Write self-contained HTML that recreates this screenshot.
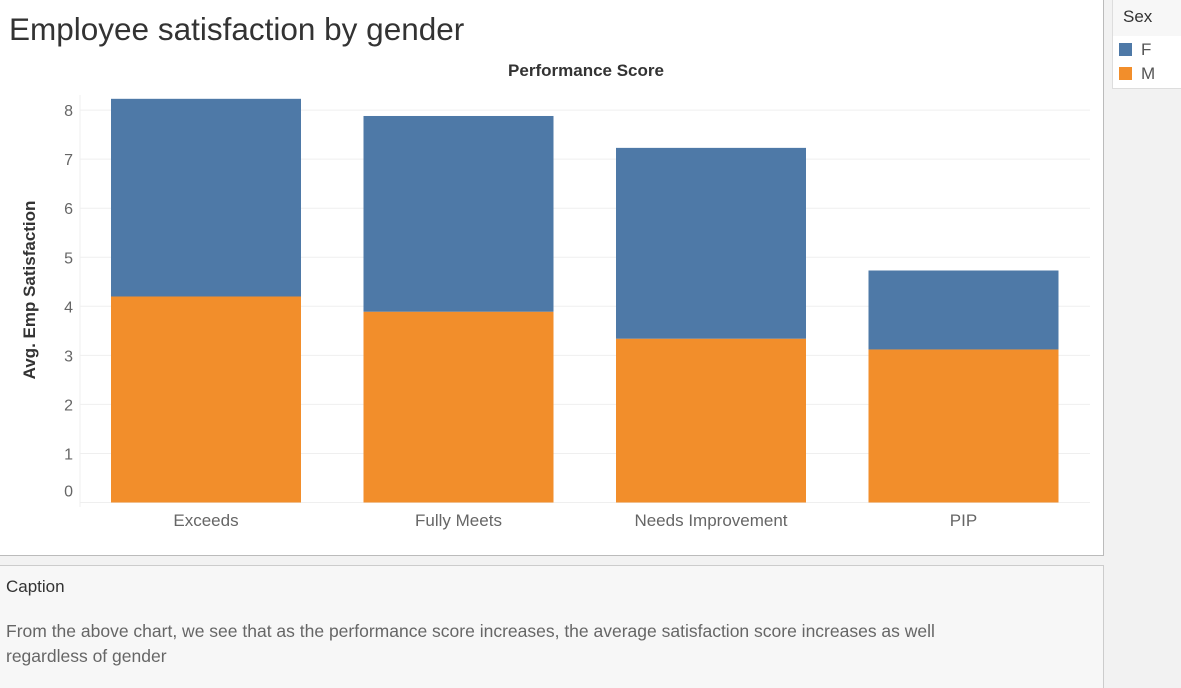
<!DOCTYPE html>
<html><head><meta charset="utf-8"><style>
body{margin:0;width:1181px;height:687px;background:#f2f2f2;font-family:"Liberation Sans",sans-serif;position:relative;overflow:hidden}
#main{position:absolute;left:0;top:0;width:1103px;height:555px;background:#fff;border-right:1px solid #bbb;border-bottom:1px solid #bbb}
#title{position:absolute;left:9px;top:11px;font-size:31.5px;color:#333;font-weight:300}
#legend{position:absolute;left:1112px;top:0;width:69px;height:88px;background:#fff;border-left:1px solid #ddd;border-bottom:1px solid #ddd}
#lh{height:36px;background:#f7f7f7;font-size:17px;color:#333;padding-left:10px;line-height:34px}
.li{position:absolute;left:6px;font-size:17px;color:#555}
.sw{display:inline-block;width:13px;height:13px;margin-right:9px;vertical-align:-1px}
#caption{position:absolute;left:0;top:565px;width:1103px;height:122px;background:#f7f7f7;border-top:1px solid #ccc;border-right:1px solid #ccc}
#ct{position:absolute;left:6px;top:11px;font-size:17px;color:#333}
#cb{position:absolute;left:6px;top:53px;font-size:17.5px;color:#666;line-height:25px;width:1012px}
</style></head><body>
<div id="main">
<div id="title">Employee satisfaction by gender</div>
<svg id="chart" width="1103" height="555" style="position:absolute;left:0;top:0"></svg>
</div>
<div id="legend">
<div id="lh">Sex</div>
<div class="li" style="top:40px"><span class="sw" style="background:#4e79a7"></span>F</div>
<div class="li" style="top:64px"><span class="sw" style="background:#f28e2b"></span>M</div>
</div>
<div id="caption">
<div id="ct">Caption</div>
<div id="cb">From the above chart, we see that as the performance score increases, the average satisfaction score increases as well regardless of gender</div>
</div>
<script>
const categories=["Exceeds","Fully Meets","Needs Improvement","PIP"];
const maleValues=[4.20,3.89,3.34,3.12];
const femaleValues=[4.03,3.99,3.89,1.61];
const yTicks=[0,1,2,3,4,5,6,7,8];
const svg=document.getElementById('chart');
const NS="http://www.w3.org/2000/svg";
const x0=80,x1=1090,y0=502.5,pu=49.05;
const y=v=>y0-v*pu;
const band=(x1-x0)/categories.length;
function mk(t,a){const e=document.createElementNS(NS,t);for(const k in a)e.setAttribute(k,a[k]);svg.appendChild(e);return e;}
yTicks.forEach(t=>{
 const l=mk('line',{x1:x0,x2:x1,y1:y(t),y2:y(t),stroke:'#efefef','stroke-width':1});
 
 
 const tx=mk('text',{x:73,y:t===0?y(t)-6:y(t)+6,'text-anchor':'end','font-size':16,fill:'#666','font-family':'Liberation Sans'});
 tx.textContent=t;
 
 
});
mk('line',{x1:x0,x2:x0,y1:95,y2:507,stroke:'#efefef'});
categories.forEach((c,i)=>{
 const bx=x0+i*band+31,bw=190;
 const m=mk('rect',{x:bx,y:y(maleValues[i]),width:bw,height:maleValues[i]*pu,fill:'#f28e2b'});
 
 
 const tot=maleValues[i]+femaleValues[i];
 const f=mk('rect',{x:bx,y:y(tot),width:bw,height:femaleValues[i]*pu,fill:'#4e79a7'});
 
 
 const t=mk('text',{x:bx+bw/2,y:526,'text-anchor':'middle','font-size':17,fill:'#666','font-family':'Liberation Sans'});
 t.textContent=c;
 
 
});
const xt=mk('text',{x:586,y:76,'text-anchor':'middle','font-size':17,'font-weight':'bold',fill:'#333','font-family':'Liberation Sans'});
xt.textContent='Performance Score';


const yt=mk('text',{x:0,y:0,transform:'translate(35,290) rotate(-90)','text-anchor':'middle','font-size':17,'font-weight':'bold',fill:'#333','font-family':'Liberation Sans'});
yt.textContent='Avg. Emp Satisfaction';


</script>
</body></html>
